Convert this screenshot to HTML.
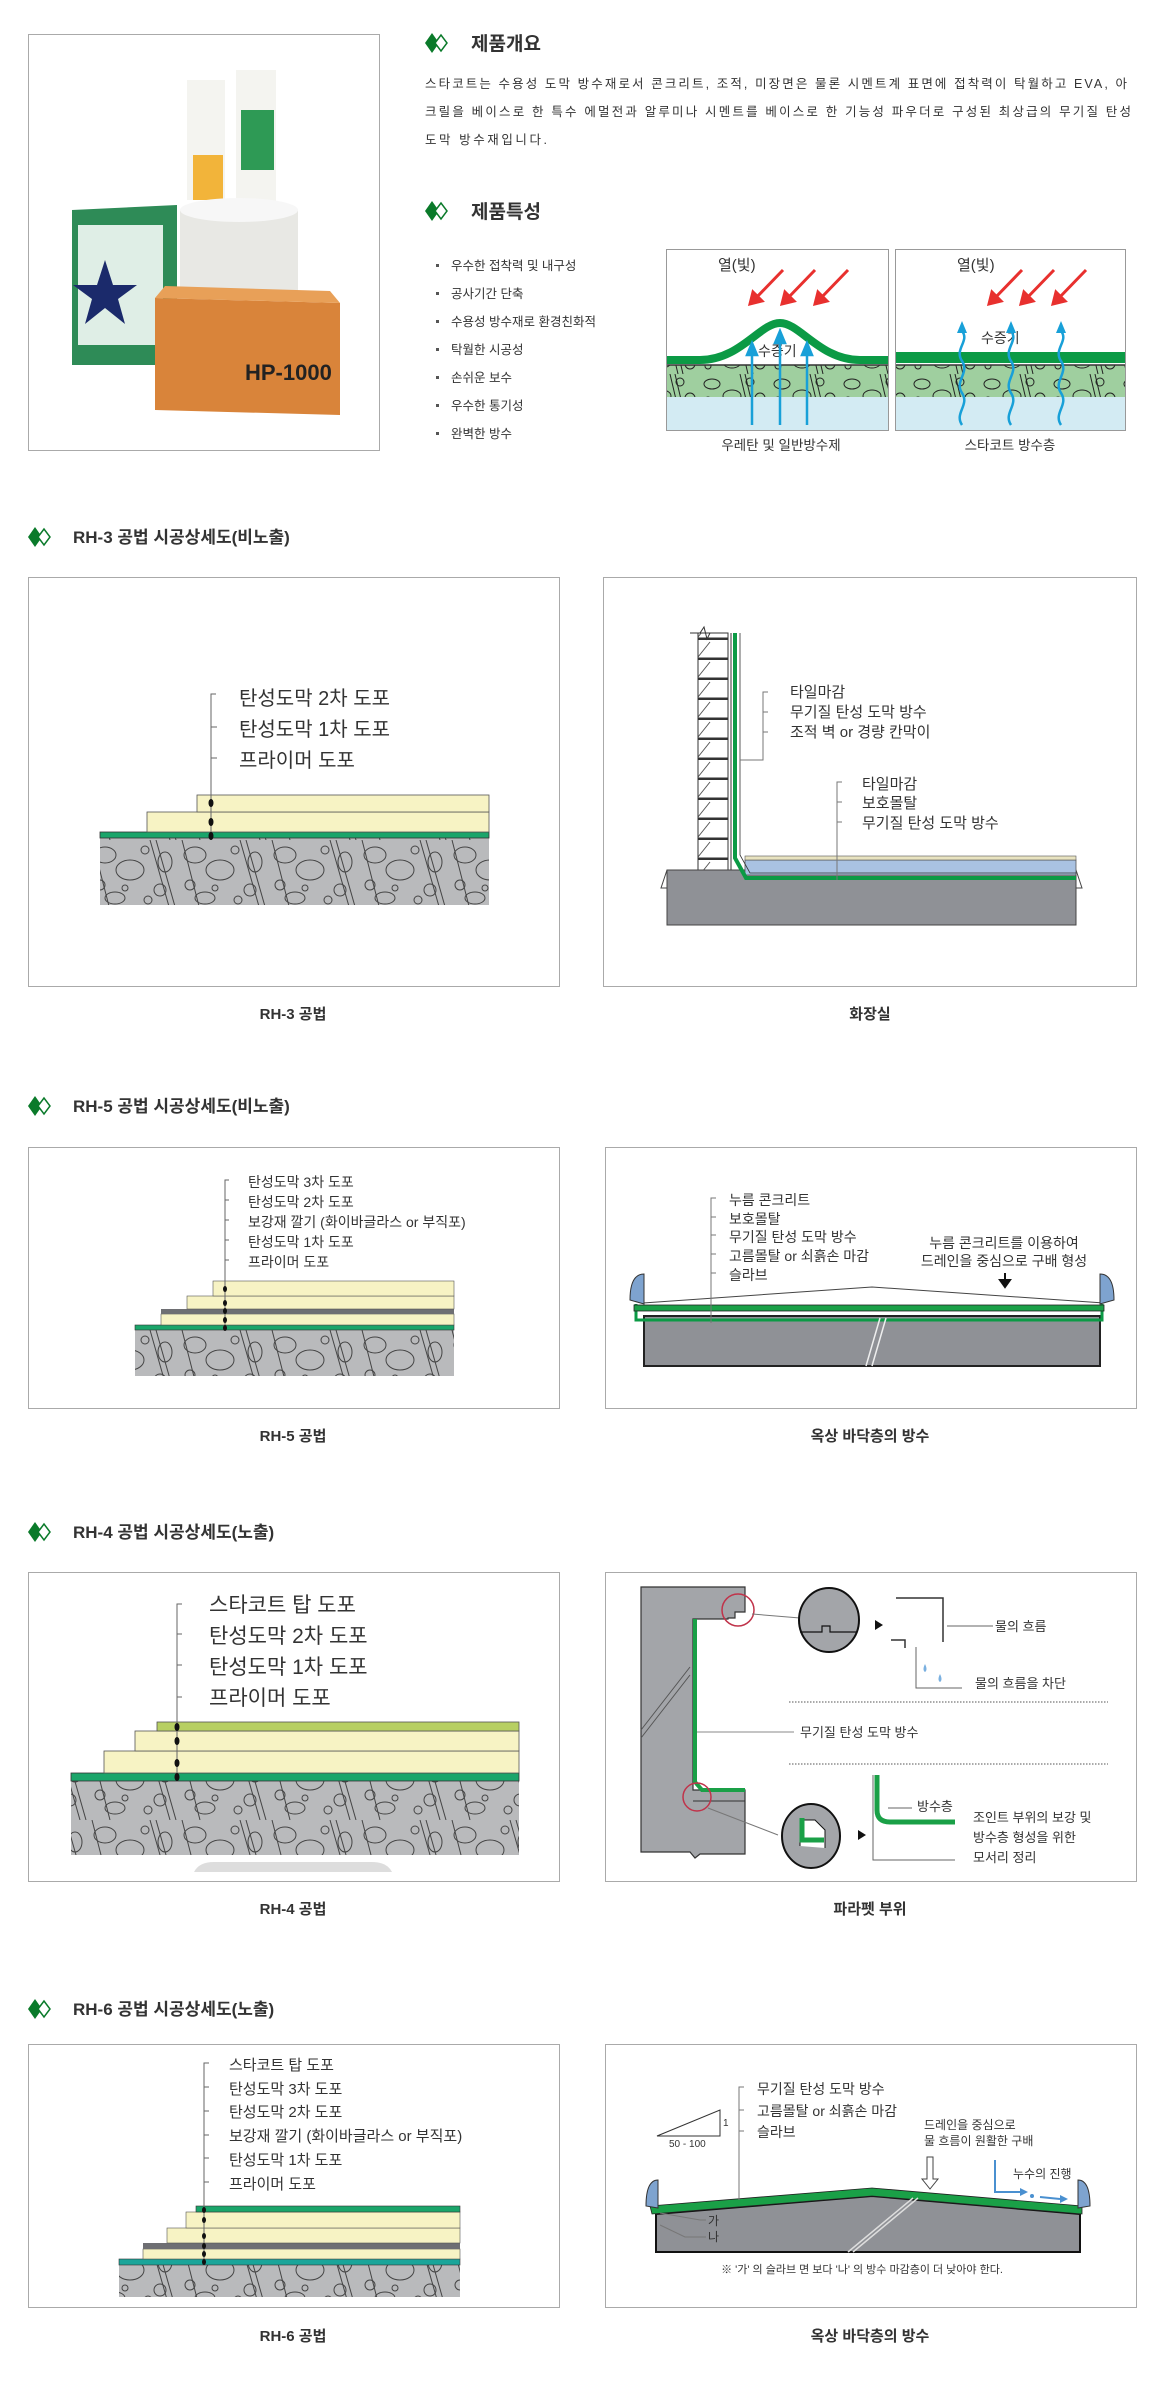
<!DOCTYPE html>
<html><head><meta charset="utf-8"><style>
html,body{margin:0;padding:0;background:#fff;}
svg{display:block;}
text{font-family:"Liberation Sans","Noto Sans CJK KR",sans-serif;fill:#333;}
</style></head><body>
<svg width="1159" height="2406" viewBox="0 0 1159 2406" xmlns="http://www.w3.org/2000/svg">
<defs>
<pattern id="conc" width="90" height="70" patternUnits="userSpaceOnUse">
<rect width="90" height="70" fill="#b9babc"/>
<g fill="none" stroke="#444" stroke-width="1">
<ellipse cx="15" cy="15" rx="11" ry="8"/><ellipse cx="40" cy="30" rx="14" ry="10"/><circle cx="10" cy="45" r="5"/>
<ellipse cx="25" cy="58" rx="10" ry="6"/><circle cx="55" cy="10" r="4"/><circle cx="70" cy="50" r="6"/><circle cx="58" cy="60" r="4"/>
<ellipse cx="75" cy="22" rx="7" ry="10"/><circle cx="35" cy="48" r="3"/>
<line x1="60" y1="0" x2="80" y2="70"/><line x1="66" y1="0" x2="86" y2="70"/><line x1="2" y1="0" x2="20" y2="70"/>
</g></pattern>
<pattern id="concg" width="70" height="34" patternUnits="userSpaceOnUse">
<rect width="70" height="34" fill="#9fcf9f"/>
<g fill="none" stroke="#222" stroke-width="1">
<ellipse cx="12" cy="10" rx="8" ry="5"/><ellipse cx="32" cy="22" rx="9" ry="6"/><circle cx="50" cy="8" r="4"/><circle cx="8" cy="26" r="3"/><circle cx="60" cy="24" r="5"/>
<line x1="40" y1="0" x2="48" y2="34"/><line x1="45" y1="0" x2="53" y2="34"/></g></pattern>
<pattern id="brick" width="30" height="20" patternUnits="userSpaceOnUse">
<rect width="30" height="20" fill="#fff"/><line x1="0" y1="19" x2="30" y2="19" stroke="#333" stroke-width="3"/>
<line x1="8" y1="17" x2="20" y2="2" stroke="#555"/></pattern>
<g id="dia"><path d="M0 10 L7 0 L14 10 L7 20Z" fill="#0a7a2a"/><path d="M10 10 L16 2 L22 10 L16 18Z" fill="#fff" stroke="#0a7a2a" stroke-width="1.5"/></g>
</defs>

<!-- product photo box -->
<rect x="28.5" y="34.5" width="351" height="416" fill="#fff" stroke="#aaa"/>
<rect x="187" y="80" width="38" height="120" fill="#f4f4f0"/><rect x="193" y="155" width="30" height="45" fill="#f2b43a"/>
<rect x="236" y="70" width="40" height="135" fill="#f4f4f0"/><rect x="241" y="110" width="33" height="60" fill="#2e9a55"/>
<path d="M180 210 h118 v90 h-118z" fill="#e8e8e4"/><ellipse cx="239" cy="210" rx="59" ry="12" fill="#f7f7f7"/>
<path d="M72 210 l105 -5 v160 l-105 0z" fill="#2e8b57"/><rect x="78" y="225" width="85" height="120" fill="#dfeee6"/>
<path d="M105 260 l8 25 l24 0 l-19 14 l7 25 l-20 -16 l-20 16 l7 -25 l-19 -14 l24 0z" fill="#1b2a6b"/>
<path d="M155 298 l185 5 v112 l-185 -5z" fill="#d9843a"/><path d="M155 298 l185 5 l-10 -12 l-165 -5z" fill="#e8a058"/>
<text x="245" y="380" font-size="22" font-weight="bold" style="fill:#222">HP-1000</text>

<!-- 제품개요 -->
<use href="#dia" x="425" y="33"/>
<text x="471" y="50" font-size="19" font-weight="bold">제품개요</text>
<g font-size="12.5" style="fill:#555">
<text x="425" y="88" textLength="702" lengthAdjust="spacing">스타코트는 수용성 도막 방수재로서 콘크리트, 조적, 미장면은 물론 시멘트계 표면에 접착력이 탁월하고 EVA, 아</text>
<text x="425" y="116" textLength="706" lengthAdjust="spacing">크릴을 베이스로 한 특수 에멀전과 알루미나 시멘트를 베이스로 한 기능성 파우더로 구성된 최상급의 무기질 탄성</text>
<text x="425" y="144" textLength="122" lengthAdjust="spacing">도막 방수재입니다.</text></g>

<use href="#dia" x="425" y="201"/>
<text x="471" y="218" font-size="19" font-weight="bold">제품특성</text>
<g font-size="12.5" style="fill:#555">
<text x="451" y="270">우수한 접착력 및 내구성</text><text x="451" y="298">공사기간 단축</text><text x="451" y="326">수용성 방수재로 환경친화적</text>
<text x="451" y="354">탁월한 시공성</text><text x="451" y="382">손쉬운 보수</text><text x="451" y="410">우수한 통기성</text><text x="451" y="438">완벽한 방수</text></g>
<g fill="#555"><rect x="436" y="264" width="3" height="3"/><rect x="436" y="292" width="3" height="3"/><rect x="436" y="320" width="3" height="3"/><rect x="436" y="348" width="3" height="3"/><rect x="436" y="376" width="3" height="3"/><rect x="436" y="404" width="3" height="3"/><rect x="436" y="432" width="3" height="3"/></g>

<!-- diagram 1 -->
<rect x="666.5" y="249.5" width="222" height="181" fill="#fff" stroke="#999"/>
<rect x="667" y="365" width="221" height="32" fill="url(#concg)"/>
<rect x="667" y="397" width="221" height="33" fill="#d3ebf3"/>
<path d="M667 360 H700 C740 360 760 323 780 323 C800 323 820 360 860 360 H888" fill="none" stroke="#0b9a45" stroke-width="8"/>
<line x1="667" y1="365" x2="888" y2="365" stroke="#333" stroke-width="1.5"/>
<text x="718" y="270" font-size="15">열(빛)</text>
<text x="758" y="356" font-size="14">수증기</text>
<g stroke="#e8302e" stroke-width="3" fill="#e8302e">
<line x1="783" y1="270" x2="754" y2="300"/><path d="M750 304 l3 -12 l9 9z"/>
<line x1="815" y1="270" x2="786" y2="300"/><path d="M782 304 l3 -12 l9 9z"/>
<line x1="848" y1="270" x2="819" y2="300"/><path d="M815 304 l3 -12 l9 9z"/></g>
<g stroke="#18a0d8" stroke-width="2.5" fill="#18a0d8">
<line x1="752" y1="425" x2="752" y2="352"/><path d="M747 355 l5 -12 l5 12z"/>
<line x1="780" y1="425" x2="780" y2="340"/><path d="M775 343 l5 -12 l5 12z"/>
<line x1="807" y1="425" x2="807" y2="352"/><path d="M802 355 l5 -12 l5 12z"/></g>
<!-- diagram 2 -->
<rect x="895.5" y="249.5" width="230" height="181" fill="#fff" stroke="#999"/>
<rect x="896" y="365" width="229" height="32" fill="url(#concg)"/>
<rect x="896" y="397" width="229" height="33" fill="#d3ebf3"/>
<rect x="896" y="352" width="229" height="11" fill="#0b9a45"/>
<line x1="896" y1="365" x2="1125" y2="365" stroke="#333" stroke-width="1.5"/>
<text x="957" y="270" font-size="15">열(빛)</text>
<text x="981" y="343" font-size="14">수증기</text>
<g stroke="#e8302e" stroke-width="3" fill="#e8302e">
<line x1="1022" y1="270" x2="993" y2="300"/><path d="M989 304 l3 -12 l9 9z"/>
<line x1="1054" y1="270" x2="1025" y2="300"/><path d="M1021 304 l3 -12 l9 9z"/>
<line x1="1086" y1="270" x2="1057" y2="300"/><path d="M1053 304 l3 -12 l9 9z"/></g>
<g stroke="#18a0d8" stroke-width="2.5" fill="none">
<path d="M962 425 c-8 -12 8 -20 0 -32 c-8 -12 8 -20 0 -32 c-8 -12 8 -20 0 -30"/>
<path d="M1011 425 c-8 -12 8 -20 0 -32 c-8 -12 8 -20 0 -32 c-8 -12 8 -20 0 -30"/>
<path d="M1061 425 c-8 -12 8 -20 0 -32 c-8 -12 8 -20 0 -32 c-8 -12 8 -20 0 -30"/></g>
<g fill="#18a0d8"><path d="M957 333 l5 -12 l5 12z"/><path d="M1006 333 l5 -12 l5 12z"/><path d="M1056 333 l5 -12 l5 12z"/></g>
<text x="781" y="450" font-size="13.5" text-anchor="middle">우레탄 및 일반방수제</text>
<text x="1010" y="450" font-size="13.5" text-anchor="middle">스타코트 방수층</text>

<!-- ========== RH-3 ========== -->
<use href="#dia" x="28" y="527"/>
<text x="73" y="543" font-size="17" font-weight="bold">RH-3 공법 시공상세도(비노출)</text>
<rect x="28.5" y="577.5" width="531" height="409" fill="#fff" stroke="#aaa"/>
<rect x="603.5" y="577.5" width="533" height="409" fill="#fff" stroke="#aaa"/>
<rect x="100" y="838" width="389" height="67" fill="url(#conc)"/>
<rect x="100" y="832" width="389" height="6" fill="#1aa56a" stroke="#333" stroke-width="0.8"/>
<rect x="147" y="812" width="342" height="20" fill="#f7f3c4" stroke="#555" stroke-width="0.8"/>
<rect x="197" y="795" width="292" height="17" fill="#f7f3c4" stroke="#555" stroke-width="0.8"/>
<g stroke="#666" fill="none"><path d="M216 694 H211 V835"/><line x1="211" y1="727" x2="217" y2="727"/><line x1="211" y1="758" x2="217" y2="758"/></g>
<g fill="#111"><ellipse cx="211" cy="803" rx="2.5" ry="4"/><ellipse cx="211" cy="822" rx="2.5" ry="4"/><ellipse cx="211" cy="836" rx="2.5" ry="4"/></g>
<g font-size="20"><text x="239" y="705">탄성도막 2차 도포</text><text x="239" y="736">탄성도막 1차 도포</text><text x="239" y="767">프라이머 도포</text></g>
<!-- 화장실 -->
<rect x="698" y="633" width="30" height="237" fill="url(#brick)" stroke="#333"/>
<path d="M690 633 h10 l4 -6 l3 12 l3 -6 h3" fill="none" stroke="#333"/>
<rect x="667" y="870" width="409" height="55" fill="#8f9196" stroke="#444"/>
<path d="M667 870 l-6 18 l6 0 M1076 870 l6 18 l-6 0" stroke="#444" fill="none"/>
<rect x="745" y="860" width="331" height="15" fill="#a9c2e2" stroke="#555" stroke-width="0.8"/>
<rect x="745" y="856" width="331" height="4" fill="#e8e3c0" stroke="#555" stroke-width="0.6"/>
<path d="M735 633 V858 L746 878 H1076" fill="none" stroke="#0b9a45" stroke-width="4"/>
<path d="M740 633 V855 L750 873 H1076" fill="none" stroke="#333" stroke-width="0.8"/>
<line x1="731" y1="633" x2="731" y2="870" stroke="#333"/>
<g stroke="#777" fill="none"><path d="M768 692 H763 V760 H740"/><line x1="763" y1="712" x2="768" y2="712"/><line x1="763" y1="732" x2="768" y2="732"/>
<path d="M842 782 H837 V880"/><line x1="837" y1="802" x2="842" y2="802"/><line x1="837" y1="822" x2="842" y2="822"/></g>
<g font-size="15"><text x="790" y="697">타일마감</text><text x="790" y="717">무기질 탄성 도막 방수</text><text x="790" y="737">조적 벽 or 경량 칸막이</text>
<text x="862" y="789">타일마감</text><text x="862" y="808">보호몰탈</text><text x="862" y="828">무기질 탄성 도막 방수</text></g>
<text x="293" y="1019" font-size="15" font-weight="bold" text-anchor="middle">RH-3 공법</text>
<text x="870" y="1019" font-size="15" font-weight="bold" text-anchor="middle">화장실</text>

<!-- ========== RH-5 ========== -->
<use href="#dia" x="28" y="1096"/>
<text x="73" y="1112" font-size="17" font-weight="bold">RH-5 공법 시공상세도(비노출)</text>
<rect x="28.5" y="1147.5" width="531" height="261" fill="#fff" stroke="#aaa"/>
<rect x="605.5" y="1147.5" width="531" height="261" fill="#fff" stroke="#aaa"/>
<rect x="135" y="1330" width="319" height="46" fill="url(#conc)"/>
<rect x="135" y="1325" width="319" height="5" fill="#1aa56a" stroke="#333" stroke-width="0.6"/>
<rect x="161" y="1314" width="293" height="11" fill="#f7f3c4" stroke="#555" stroke-width="0.6"/>
<rect x="161" y="1309" width="293" height="5" fill="#6e6f73"/>
<rect x="187" y="1296" width="267" height="13" fill="#f7f3c4" stroke="#555" stroke-width="0.6"/>
<rect x="213" y="1281" width="241" height="15" fill="#f7f3c4" stroke="#555" stroke-width="0.6"/>
<g stroke="#666" fill="none"><path d="M229 1180 H225 V1330"/><line x1="225" y1="1200" x2="229" y2="1200"/><line x1="225" y1="1220" x2="229" y2="1220"/><line x1="225" y1="1240" x2="229" y2="1240"/><line x1="225" y1="1260" x2="229" y2="1260"/></g>
<g fill="#111"><ellipse cx="225" cy="1289" rx="2" ry="3"/><ellipse cx="225" cy="1303" rx="2" ry="3"/><ellipse cx="225" cy="1311" rx="2" ry="3"/><ellipse cx="225" cy="1320" rx="2" ry="3"/><ellipse cx="225" cy="1328" rx="2" ry="3"/></g>
<g font-size="14"><text x="248" y="1187">탄성도막 3차 도포</text><text x="248" y="1207">탄성도막 2차 도포</text><text x="248" y="1227">보강재 깔기 (화이바글라스 or 부직포)</text><text x="248" y="1247">탄성도막 1차 도포</text><text x="248" y="1267">프라이머 도포</text></g>
<!-- roof 1 -->
<rect x="644" y="1316" width="456" height="50" fill="#8f9196" stroke="#222" stroke-width="2"/>
<path d="M636 1304 V1320 H1102 V1304" fill="none" stroke="#0b9a45" stroke-width="3"/>
<rect x="634" y="1305" width="470" height="6" fill="#1aa047" stroke="#222" stroke-width="0.8"/>
<path d="M643 1303 L872 1287 L1104 1303" fill="none" stroke="#444"/>
<path d="M880 1318 L866 1366 M886 1318 L872 1366" stroke="#eee" stroke-width="1.5"/>
<path d="M630 1300 q0 -26 14 -26 v30 z" fill="#7ea3cf" stroke="#333"/><path d="M1114 1300 q0 -26 -14 -26 v30 z" fill="#7ea3cf" stroke="#333"/>
<g stroke="#777" fill="none"><path d="M716 1198 H711 V1323"/><line x1="711" y1="1217" x2="716" y2="1217"/><line x1="711" y1="1235" x2="716" y2="1235"/><line x1="711" y1="1254" x2="716" y2="1254"/><line x1="711" y1="1273" x2="716" y2="1273"/></g>
<g font-size="14"><text x="729" y="1205">누름 콘크리트</text><text x="729" y="1224">보호몰탈</text><text x="729" y="1242">무기질 탄성 도막 방수</text><text x="729" y="1261">고름몰탈 or 쇠흙손 마감</text><text x="729" y="1280">슬라브</text>
<text x="1004" y="1248" text-anchor="middle">누름 콘크리트를 이용하여</text><text x="1004" y="1266" text-anchor="middle">드레인을 중심으로 구배 형성</text></g>
<path d="M1005 1273 v8 M1000 1280 l5 7 l5 -7z" stroke="#111" stroke-width="2" fill="#111"/>
<text x="293" y="1441" font-size="15" font-weight="bold" text-anchor="middle">RH-5 공법</text>
<text x="870" y="1441" font-size="15" font-weight="bold" text-anchor="middle">옥상 바닥층의 방수</text>

<!-- ========== RH-4 ========== -->
<use href="#dia" x="28" y="1522"/>
<text x="73" y="1538" font-size="17" font-weight="bold">RH-4 공법 시공상세도(노출)</text>
<rect x="28.5" y="1572.5" width="531" height="309" fill="#fff" stroke="#aaa"/>
<rect x="605.5" y="1572.5" width="531" height="309" fill="#fff" stroke="#aaa"/>
<rect x="71" y="1781" width="448" height="74" fill="url(#conc)"/>
<rect x="71" y="1773" width="448" height="8" fill="#1aa56a" stroke="#333" stroke-width="0.8"/>
<rect x="104" y="1751" width="415" height="22" fill="#f7f3c4" stroke="#555" stroke-width="0.8"/>
<rect x="135" y="1731" width="384" height="20" fill="#f7f3c4" stroke="#555" stroke-width="0.8"/>
<rect x="157" y="1722" width="362" height="9" fill="#b7cf63" stroke="#555" stroke-width="0.8"/>
<path d="M194 1872 q5 -10 20 -10 h158 q15 0 20 10z" fill="#ddd"/>
<g stroke="#666" fill="none"><path d="M182 1604 H177 V1780"/><line x1="177" y1="1634" x2="182" y2="1634"/><line x1="177" y1="1665" x2="182" y2="1665"/><line x1="177" y1="1697" x2="182" y2="1697"/></g>
<g fill="#111"><ellipse cx="177" cy="1727" rx="2.5" ry="4"/><ellipse cx="177" cy="1741" rx="2.5" ry="4"/><ellipse cx="177" cy="1763" rx="2.5" ry="4"/><ellipse cx="177" cy="1777" rx="2.5" ry="4"/></g>
<g font-size="21"><text x="209" y="1612">스타코트 탑 도포</text><text x="209" y="1643">탄성도막 2차 도포</text><text x="209" y="1674">탄성도막 1차 도포</text><text x="209" y="1705">프라이머 도포</text></g>
<!-- parapet -->
<path d="M641 1587 H745 V1612 H735 V1618 H728 V1619 H693 V1790 H745 V1854 H700 L695 1858 L690 1852 H641 Z" fill="#a3a5a9" stroke="#333" stroke-width="1.2"/>
<path d="M693 1801 H745" stroke="#333"/>
<path d="M695 1619 V1782 L702 1790 H745" fill="none" stroke="#1aa047" stroke-width="4"/>
<path d="M641 1730 L690 1667 M641 1738 L690 1675" stroke="#555"/>
<circle cx="738" cy="1610" r="16" fill="none" stroke="#c0334a" stroke-width="1.5"/>
<circle cx="697" cy="1797" r="14" fill="none" stroke="#c0334a" stroke-width="1.5"/>
<line x1="752" y1="1614" x2="800" y2="1618" stroke="#777"/><line x1="708" y1="1808" x2="778" y2="1835" stroke="#777"/>
<ellipse cx="829" cy="1620" rx="30" ry="32" fill="#a3a5a9" stroke="#111" stroke-width="2"/>
<path d="M800 1632 H822 V1626 H830 V1632 H857" fill="none" stroke="#111" stroke-width="1.2"/>
<ellipse cx="811" cy="1836" rx="29" ry="32" fill="#a3a5a9" stroke="#111" stroke-width="2"/>
<path d="M800 1846 V1820 H815 L825 1830 V1848" fill="#fff" stroke="#111"/><path d="M802 1818 V1840 H824" fill="none" stroke="#1aa047" stroke-width="5"/>
<path d="M875 1620 l8 5 l-8 5z M858 1830 l8 5 l-8 5z" fill="#111"/>
<path d="M896 1598 H943 V1642 M891 1640 H905 V1648" fill="none" stroke="#333" stroke-width="1.5"/>
<line x1="947" y1="1626" x2="993" y2="1626" stroke="#666"/><path d="M916 1647 V1688 H962" fill="none" stroke="#666"/>
<path d="M925 1664 q-3 6 0 8 q3 -2 0 -8z M940 1674 q-3 6 0 8 q3 -2 0 -8z" fill="#7ab0e0"/>
<path d="M877 1775 V1810 Q877 1822 890 1822 H955" fill="none" stroke="#1aa047" stroke-width="5"/>
<path d="M873 1775 V1860 H955" fill="none" stroke="#666"/>
<line x1="888" y1="1808" x2="912" y2="1808" stroke="#666"/>
<line x1="789" y1="1702" x2="1108" y2="1702" stroke="#555" stroke-dasharray="1.5 1.5"/>
<line x1="789" y1="1764" x2="1108" y2="1764" stroke="#555" stroke-dasharray="1.5 1.5"/>
<line x1="697" y1="1732" x2="794" y2="1732" stroke="#888"/>
<g font-size="13"><text x="995" y="1631">물의 흐름</text><text x="975" y="1688">물의 흐름을 차단</text><text x="800" y="1737">무기질 탄성 도막 방수</text><text x="917" y="1811">방수층</text>
<text x="973" y="1822">조인트 부위의 보강 및</text><text x="973" y="1842">방수층 형성을 위한</text><text x="973" y="1862">모서리 정리</text></g>
<text x="293" y="1914" font-size="15" font-weight="bold" text-anchor="middle">RH-4 공법</text>
<text x="870" y="1914" font-size="15" font-weight="bold" text-anchor="middle">파라펫 부위</text>

<!-- ========== RH-6 ========== -->
<use href="#dia" x="28" y="1999"/>
<text x="73" y="2015" font-size="17" font-weight="bold">RH-6 공법 시공상세도(노출)</text>
<rect x="28.5" y="2044.5" width="531" height="263" fill="#fff" stroke="#aaa"/>
<rect x="605.5" y="2044.5" width="531" height="263" fill="#fff" stroke="#aaa"/>
<rect x="119" y="2265" width="341" height="32" fill="url(#conc)"/>
<rect x="119" y="2259" width="341" height="6" fill="#1aa59a" stroke="#333" stroke-width="0.6"/>
<rect x="143" y="2249" width="317" height="10" fill="#f7f3c4" stroke="#555" stroke-width="0.6"/>
<rect x="143" y="2243" width="317" height="6" fill="#6e6f73"/>
<rect x="167" y="2228" width="293" height="15" fill="#f7f3c4" stroke="#555" stroke-width="0.6"/>
<rect x="186" y="2212" width="274" height="16" fill="#f7f3c4" stroke="#555" stroke-width="0.6"/>
<rect x="196" y="2206" width="264" height="6" fill="#1aa56a" stroke="#333" stroke-width="0.6"/>
<g stroke="#666" fill="none"><path d="M209 2063 H204 V2265"/><line x1="204" y1="2087" x2="209" y2="2087"/><line x1="204" y1="2111" x2="209" y2="2111"/><line x1="204" y1="2135" x2="209" y2="2135"/><line x1="204" y1="2158" x2="209" y2="2158"/><line x1="204" y1="2182" x2="209" y2="2182"/></g>
<g fill="#111"><ellipse cx="204" cy="2210" rx="2" ry="3"/><ellipse cx="204" cy="2220" rx="2" ry="3"/><ellipse cx="204" cy="2236" rx="2" ry="3"/><ellipse cx="204" cy="2246" rx="2" ry="3"/><ellipse cx="204" cy="2254" rx="2" ry="3"/><ellipse cx="204" cy="2262" rx="2" ry="3"/></g>
<g font-size="15"><text x="229" y="2070">스타코트 탑 도포</text><text x="229" y="2094">탄성도막 3차 도포</text><text x="229" y="2117">탄성도막 2차 도포</text><text x="229" y="2141">보강재 깔기 (화이바글라스 or 부직포)</text><text x="229" y="2165">탄성도막 1차 도포</text><text x="229" y="2189">프라이머 도포</text></g>
<!-- roof 2 -->
<path d="M656 2214 L872 2196 L1080 2214 V2252 H656 Z" fill="#8f9196" stroke="#111" stroke-width="2"/>
<path d="M650 2206 L872 2188 L1082 2206 V2214 L872 2196 L652 2214 Z" fill="#1aa047" stroke="#222" stroke-width="0.8"/>
<path d="M913 2198 L848 2252 M918 2198 L853 2252" stroke="#ddd" stroke-width="1.5"/>
<path d="M646 2206 q0 -26 12 -26 v28 z" fill="#7ea3cf" stroke="#333"/><path d="M1090 2206 q0 -26 -12 -26 v28 z" fill="#7ea3cf" stroke="#333"/>
<path d="M657 2136 L720 2110 V2136 Z" fill="none" stroke="#333"/>
<text x="723" y="2126" font-size="10">1</text><text x="669" y="2147" font-size="10">50 - 100</text>
<g stroke="#777" fill="none"><path d="M744 2087 H739 V2200"/><line x1="739" y1="2110" x2="744" y2="2110"/><line x1="739" y1="2131" x2="744" y2="2131"/>
<path d="M660 2213 L700 2220 H706 M660 2225 L685 2237 H706"/></g>
<text x="708" y="2225" font-size="12">가</text><text x="708" y="2241" font-size="12">나</text>
<g font-size="14"><text x="757" y="2094">무기질 탄성 도막 방수</text><text x="757" y="2116">고름몰탈 or 쇠흙손 마감</text><text x="757" y="2137">슬라브</text></g>
<g font-size="12"><text x="924" y="2129">드레인을 중심으로</text><text x="924" y="2145">물 흐름이 원활한 구배</text><text x="1013" y="2178">누수의 진행</text></g>
<path d="M927 2157 h6 v22 h5 l-8 10 l-8 -10 h5z" fill="#fff" stroke="#444"/>
<path d="M995 2160 V2192 H1020" fill="none" stroke="#4a90d0" stroke-width="2"/><path d="M1020 2188 l8 4 l-8 4z M1060 2195 l8 4 l-8 4z" fill="#4a90d0"/>
<line x1="1040" y1="2197" x2="1060" y2="2199" stroke="#4a90d0" stroke-width="2"/><circle cx="1032" cy="2196" r="2" fill="#4a90d0"/>
<text x="862" y="2273" font-size="11" text-anchor="middle">※ '가' 의 슬라브 면 보다 '나' 의 방수 마감층이 더 낮아야 한다.</text>
<text x="293" y="2341" font-size="15" font-weight="bold" text-anchor="middle">RH-6 공법</text>
<text x="870" y="2341" font-size="15" font-weight="bold" text-anchor="middle">옥상 바닥층의 방수</text>
</svg>
</body></html>
